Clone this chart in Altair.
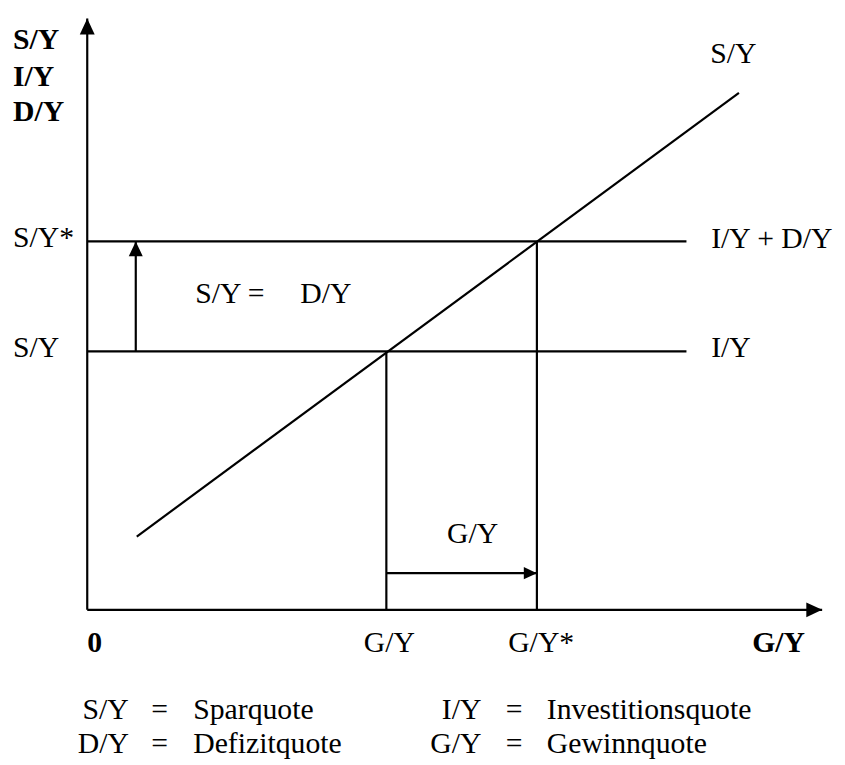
import altair as alt
import pandas as pd

FONT = "Times New Roman, Liberation Serif, Tinos, DejaVu Serif, serif"

# line segments (data units; origin at the axes' crossing)
seg_x = [0, 0, 0, 0, 50, 302, 454, 49, 302]
seg_y = [0, 0, 372, 261, 74, 0, 0, 261, 37]
seg_x2 = [0, 742, 605, 605, 658, 302, 454, 49, 454]
seg_y2 = [597, 0, 372, 261, 522, 261, 372, 372, 37]

# arrow heads: tip position, direction angle, size
head_x = [0, 742, 49, 454]
head_y = [597, 0, 372, 37]
head_angle = [0, 90, 0, 90]
head_size = [1024, 1024, 900, 700]

# text labels
lbl_left_text = ["S/Y*", "S/Y", "S/Y", "I/Y + D/Y", "I/Y", "S/Y =", "D/Y", "G/Y*"]
lbl_left_x = [-75, -75, 629, 630, 630, 109, 215, 425]
lbl_left_y = [366, 255, 552, 365, 255, 310, 310, -43]

lbl_center_text = ["G/Y", "G/Y"]
lbl_center_x = [389, 305]
lbl_center_y = [67, -43]

bold_left_text = ["S/Y", "I/Y", "D/Y", "0"]
bold_left_x = [-75, -75, -75, 0]
bold_left_y = [566, 529, 494, -43]

bold_center_text = ["G/Y"]
bold_center_x = [698]
bold_center_y = [-43]

# legend
leg_abbr = ["S/Y", "D/Y", "I/Y", "G/Y"]
leg_word = ["Sparquote", "Defizitquote", "Investitionsquote", "Gewinnquote"]
leg_abbr_x = [42, 42, 398, 398]
leg_eq_x = [73, 73, 431, 431]
leg_word_x = [107, 107, 464, 464]
leg_y = [-110, -145, -110, -145]

xs = alt.Scale(domain=[-80, 757])
ys = alt.Scale(domain=[-153, 604])
X = lambda f: alt.X(f, type="quantitative", scale=xs, axis=None)
Y = lambda f: alt.Y(f, type="quantitative", scale=ys, axis=None)

segs = pd.DataFrame({"x": seg_x, "y": seg_y, "x2": seg_x2, "y2": seg_y2})
lines = alt.Chart(segs).mark_rule(color="black", strokeWidth=2.2, clip=False).encode(
    x=X("x"), y=Y("y"), x2="x2", y2="y2")

heads = pd.DataFrame({"x": head_x, "y": head_y, "a": head_angle, "s": head_size})
arrows = alt.Chart(heads).mark_point(
    shape="M0,0L0.47,1L-0.47,1Z", filled=True, color="black", opacity=1,
    strokeWidth=0, clip=False
).encode(x=X("x"), y=Y("y"),
         angle=alt.Angle("a:Q", scale=None),
         size=alt.Size("s:Q", scale=None, legend=None))

def texts(t, x, y, align, weight="normal"):
    df = pd.DataFrame({"t": t, "x": x, "y": y})
    return alt.Chart(df).mark_text(
        align=align, baseline="alphabetic", font=FONT, fontSize=30,
        fontWeight=weight, color="black", clip=False
    ).encode(x=X("x"), y=Y("y"), text="t:N")

leg_eq = ["="] * len(leg_abbr)
layers = [
    lines, arrows,
    texts(lbl_left_text, lbl_left_x, lbl_left_y, "left"),
    texts(lbl_center_text, lbl_center_x, lbl_center_y, "center"),
    texts(bold_left_text, bold_left_x, bold_left_y, "left", "bold"),
    texts(bold_center_text, bold_center_x, bold_center_y, "center", "bold"),
    texts(leg_abbr, leg_abbr_x, leg_y, "right"),
    texts(leg_eq, leg_eq_x, leg_y, "center"),
    texts(leg_word, leg_word_x, leg_y, "left"),
]

chart = alt.layer(*layers).properties(
    width=837, height=757, padding=0, autosize="none"
).configure_view(stroke=None)

chart.save("out.html", embed_options={"renderer": "svg", "actions": False})
